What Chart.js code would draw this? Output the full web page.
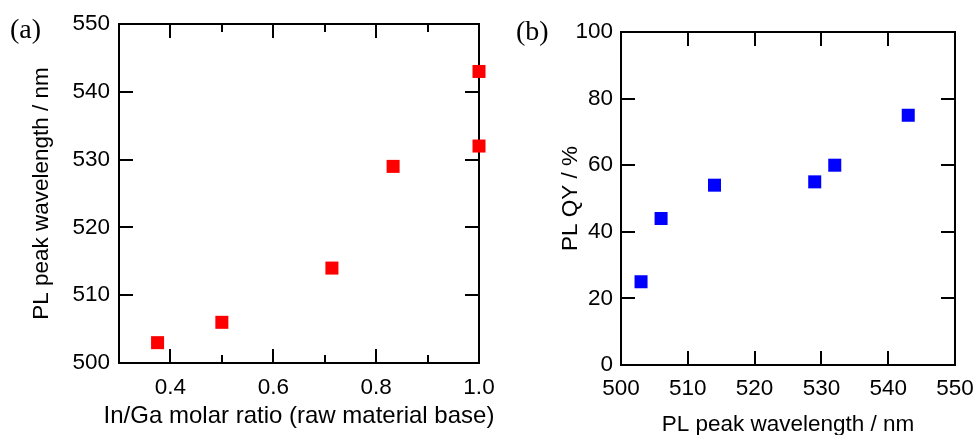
<!DOCTYPE html>
<html>
<head>
<meta charset="utf-8">
<script src="https://cdn.jsdelivr.net/npm/chart.js@4/dist/chart.umd.min.js"></script>
<style>
  html, body { margin: 0; padding: 0; background: #fff; }
  #wrap { position: relative; width: 974px; height: 435px; overflow: hidden; }
  .panel { position: absolute; top: 0; height: 435px; }
  .tag { position: absolute; font-family: "Liberation Serif", "Times New Roman", serif;
         font-size: 28px; line-height: 28px; color: #000; }
</style>
</head>
<body>
<div id="wrap">
  <div class="panel" style="left:0;width:500px"><canvas id="chartA" width="500" height="435"></canvas></div>
  <div class="panel" style="left:500px;width:474px"><canvas id="chartB" width="474" height="435"></canvas></div>
  <div class="tag" style="left:10px;top:15px">(a)</div>
  <div class="tag" style="left:516px;top:17px">(b)</div>
</div>
<script>
// Panel (a): PL peak wavelength vs In/Ga molar ratio
const ratio = [0.375, 0.5, 0.714, 0.833, 1.0, 1.0];
const peakA = [503, 506, 514, 529, 532, 543];
const xTicksA = [0.4, 0.6, 0.8, 1.0];
const xMinorA = [0.5, 0.7, 0.9];
const yTicksA = [500, 510, 520, 530, 540, 550];

// Panel (b): PL quantum yield vs PL peak wavelength
const peakB = [503, 506, 514, 529, 532, 543];
const qy = [25, 44, 54, 55, 60, 75];
const xTicksB = [500, 510, 520, 530, 540, 550];
const yTicksB = [0, 20, 40, 60, 80, 100];

const SANS = '"Liberation Sans", Arial, sans-serif';

function setTicks(values) {
  return s => { s.ticks = values.map(v => ({ value: v })); };
}
// Fixed axis box size; label overhang is allowed to spill into the margins.
function fixSize(size) {
  return s => {
    if (s.isHorizontal()) s.height = size; else s.width = size;
    s.paddingLeft = s.paddingRight = s.paddingTop = s.paddingBottom = 0;
  };
}

// One axis of the framed plot: inward tick marks, optional labels and title.
function axis(o) {
  return {
    type: 'linear',
    position: o.position,
    min: o.min, max: o.max,
    weight: o.weight || 0,
    afterBuildTicks: setTicks(o.values),
    afterFit: fixSize(o.size || 0),
    border: { display: o.border !== false, color: '#000', width: 2 },
    grid: {
      display: true, drawOnChartArea: false, drawTicks: true,
      tickLength: -(o.tick || 14), tickWidth: 2, tickColor: '#000',
      color: '#000', lineWidth: 2
    },
    ticks: {
      display: !!o.labels, padding: o.padding || 0, color: '#000',
      autoSkip: false, maxRotation: 0,
      font: { family: SANS, size: 22.5 },
      callback: o.fmt || (v => String(v))
    },
    title: o.title ? {
      display: true, text: o.title, color: '#000',
      font: { family: SANS, size: o.titleSize || 22.5 },
      padding: o.titlePad
    } : { display: false }
  };
}

// Axis caption that may run wider than the plot area
const wideCaption = {
  id: 'wideCaption',
  afterDraw(chart, args, opts) {
    if (!opts || !opts.text) return;
    const s = chart.scales[opts.scale];
    const ctx = chart.ctx;
    ctx.save();
    ctx.font = opts.size + 'px ' + SANS;
    ctx.fillStyle = '#000';
    ctx.textAlign = 'center';
    ctx.textBaseline = 'middle';
    ctx.fillText(opts.text, (s.left + s.right) / 2, s.bottom - opts.offset);
    ctx.restore();
  }
};

const common = { responsive: false, animation: false, events: [] };

new Chart(document.getElementById('chartA'), {
  type: 'scatter',
  data: {
    datasets: [{
      data: ratio.map((x, i) => ({ x: x, y: peakA[i] })),
      pointStyle: 'rect', pointRadius: 9.2, pointHoverRadius: 9.2,
      pointBackgroundColor: '#ff0000', pointBorderWidth: 0,
      clip: false
    }]
  },
  options: Object.assign({}, common, {
    layout: { padding: { top: 24, right: 21, left: 0, bottom: 0 } },
    plugins: {
      legend: { display: false }, tooltip: { enabled: false },
      wideCaption: { text: 'In/Ga molar ratio (raw material base)', scale: 'x', size: 24, offset: 18.5 }
    },
    scales: {
      x: axis({ position: 'bottom', min: 0.3, max: 1.0, values: xTicksA, size: 72,
                labels: true, padding: 25, fmt: v => Number(v).toFixed(1) }),
      xMinor: axis({ position: 'bottom', min: 0.3, max: 1.0, values: xMinorA, weight: -1,
                     border: false, tick: 8 }),
      xTop: axis({ position: 'top', min: 0.3, max: 1.0, values: xTicksA }),
      xTopMinor: axis({ position: 'top', min: 0.3, max: 1.0, values: xMinorA, border: false, tick: 8 }),
      y: axis({ position: 'left', min: 500, max: 550, values: yTicksA, size: 119,
                labels: true, padding: 23, title: 'PL peak wavelength / nm',
                titlePad: { top: 28, bottom: 0 } }),
      yRight: axis({ position: 'right', min: 500, max: 550, values: yTicksA })
    }
  }),
  plugins: [wideCaption]
});

new Chart(document.getElementById('chartB'), {
  type: 'scatter',
  data: {
    datasets: [{
      data: peakB.map((x, i) => ({ x: x, y: qy[i] })),
      pointStyle: 'rect', pointRadius: 9.2, pointHoverRadius: 9.2,
      pointBackgroundColor: '#0000ff', pointBorderWidth: 0,
      clip: false
    }]
  },
  options: Object.assign({}, common, {
    layout: { padding: { top: 32, right: 19, left: 0, bottom: 0 } },
    plugins: { legend: { display: false }, tooltip: { enabled: false } },
    scales: {
      x: axis({ position: 'bottom', min: 500, max: 550, values: xTicksB, size: 70,
                labels: true, padding: 24.5, title: 'PL peak wavelength / nm',
                titlePad: { top: 0, bottom: -3 } }),
      xTop: axis({ position: 'top', min: 500, max: 550, values: xTicksB }),
      y: axis({ position: 'left', min: 0, max: 100, values: yTicksB, size: 121,
                labels: true, padding: 22, title: 'PL QY / %',
                titlePad: { top: 57, bottom: 0 } }),
      yRight: axis({ position: 'right', min: 0, max: 100, values: yTicksB })
    }
  })
});
</script>
</body>
</html>
